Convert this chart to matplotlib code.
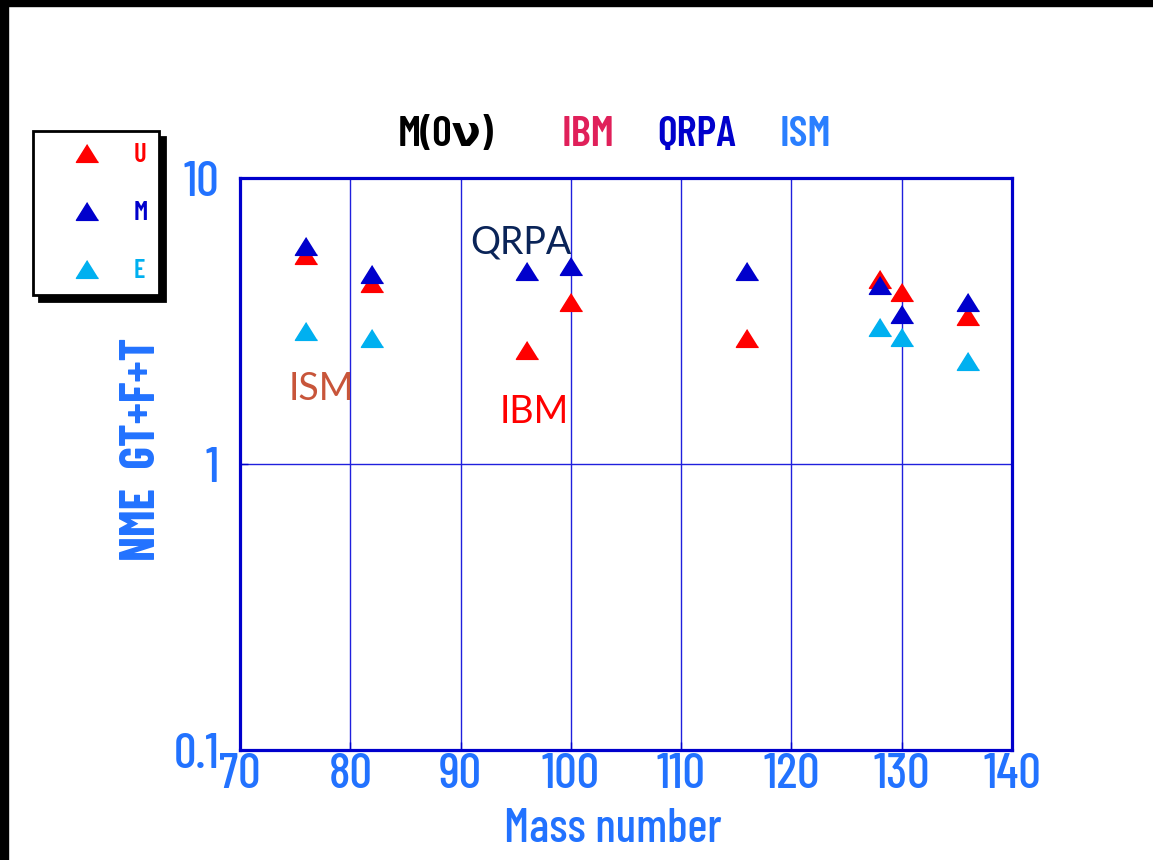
import numpy as np
import matplotlib
matplotlib.use("Agg")
import matplotlib.pyplot as plt
from matplotlib import font_manager
from matplotlib.patches import Rectangle

# narrow font if there is one, else DejaVu with smaller sizes
names = {f.name for f in font_manager.fontManager.ttflist}
if 'Barlow Condensed' in names:
    narrow = ['Barlow Condensed', 'DejaVu Sans']
    fs_tick, fs_title, fs_ylab, fs_xlab, fs_leg = 36, 31, 35, 34, 19
elif 'Liberation Sans Narrow' in names:
    narrow = ['Liberation Sans Narrow', 'DejaVu Sans']
    fs_tick, fs_title, fs_ylab, fs_xlab, fs_leg = 34, 29, 32, 31, 18
else:
    narrow = ['DejaVu Sans']
    fs_tick, fs_title, fs_ylab, fs_xlab, fs_leg = 26, 24, 28, 28, 16

# data
A_U = [76, 82, 96, 100, 116, 128, 130, 136]
U = [5.38, 4.29, 2.50, 3.68, 2.76, 4.43, 3.99, 3.29]
A_M = [76, 82, 96, 100, 116, 128, 130, 136]
M = [5.78, 4.62, 4.73, 4.92, 4.73, 4.23, 3.34, 3.68]
A_E = [76, 82, 128, 130, 136]
E = [2.92, 2.76, 3.01, 2.78, 2.29]

xticks = [70, 80, 90, 100, 110, 120, 130, 140]
yticks = [0.1, 1, 10]
ytick_labels = ['0.1', '1', '10']

red = '#ff0000'
blue = '#0000cc'
cyan = '#00b0f0'
tickc = '#2272ff'

tri = [(0, 0.8), (-1, -0.8), (1, -0.8)]

fig = plt.figure(figsize=(11.53, 8.60), dpi=100)
ax = fig.add_axes([240/1153, 1-750/860, 772/1153, 572/860])

ax.plot(A_U, U, linestyle='none', marker=tri, ms=16, color=red, mec=red, label='U', zorder=3)
ax.plot(A_M, M, linestyle='none', marker=tri, ms=16, color=blue, mec=blue, label='M', zorder=4)
ax.plot(A_E, E, linestyle='none', marker=tri, ms=16, color=cyan, mec=cyan, label='E', zorder=5)

ax.set_yscale('log')
ax.set_xlim(70, 140)
ax.set_ylim(0.1, 10)
ax.set_xticks(xticks)
ax.set_xticklabels([str(v) for v in xticks])
ax.set_yticks(yticks)
ax.set_yticklabels(ytick_labels)
ax.yaxis.set_minor_locator(matplotlib.ticker.NullLocator())
ax.grid(True, which='major', color='#2020dd', linewidth=1.0)
ax.set_axisbelow(True)

for s in ax.spines.values():
    s.set_color(blue)
    s.set_linewidth(2.3)
ax.tick_params(axis='both', direction='in', length=6, width=1, color=blue,
               labelcolor=tickc, labelsize=fs_tick)
ax.tick_params(axis='x', pad=2)
ax.tick_params(axis='y', pad=15)
for lab in ax.get_xticklabels() + ax.get_yticklabels():
    lab.set_family(narrow)
    lab.set_weight('medium')

# annotations
ax.text(95.5, 5.97, 'QRPA', color='#0a2458', fontsize=27, family='Lato', ha='center', va='center')
ax.text(77.4, 1.83, 'ISM', color='#c8553a', fontsize=27, family='Lato', ha='center', va='center')
ax.text(96.7, 1.52, 'IBM', color=red, fontsize=27, family='Lato', ha='center', va='center')

# title words
ty = 1 - 135/860
fig.text(398/1153, ty, 'M(0ν)', color='black', fontsize=fs_title, family=narrow, weight='semibold', va='center')
fig.text(562/1153, ty, 'IBM', color='#e0205a', fontsize=fs_title, family=narrow, weight='semibold', va='center')
fig.text(657/1153, ty, 'QRPA', color=blue, fontsize=fs_title, family=narrow, weight='semibold', va='center')
fig.text(780/1153, ty, 'ISM', color='#2a7fff', fontsize=fs_title, family=narrow, weight='semibold', va='center')

fig.text(142/1153, 1-449/860, 'NME  GT+F+T', color=tickc, fontsize=fs_ylab, family=narrow,
         weight='bold', rotation=90, ha='center', va='center')
fig.text(613/1153, 1-829/860, 'Mass number', color=tickc, fontsize=fs_xlab, family=narrow,
         weight='medium', ha='center', va='center')

leg = ax.legend(loc='upper left', bbox_to_anchor=(33/1153, 1-131/860),
                bbox_transform=fig.transFigure, borderaxespad=0,
                prop={'family': narrow, 'size': fs_leg, 'weight': 'semibold'}, labelspacing=1.3,
                handlelength=3.2, handletextpad=0.15, borderpad=0.45,
                fancybox=False, edgecolor='black', framealpha=1,
                shadow={'ox': 4, 'oy': -4, 'facecolor': 'black', 'edgecolor': 'black', 'alpha': 1})
leg.get_frame().set_linewidth(2)
for t, c in zip(leg.get_texts(), [red, blue, cyan]):
    t.set_color(c)

# black strips at top and left edge
fig.patches.append(Rectangle((0, 1-6/860), 1, 6/860, transform=fig.transFigure, color='black', zorder=10))
fig.patches.append(Rectangle((0, 0), 8/1153, 1, transform=fig.transFigure, color='black', zorder=10))

fig.savefig('out.png', dpi=100)
